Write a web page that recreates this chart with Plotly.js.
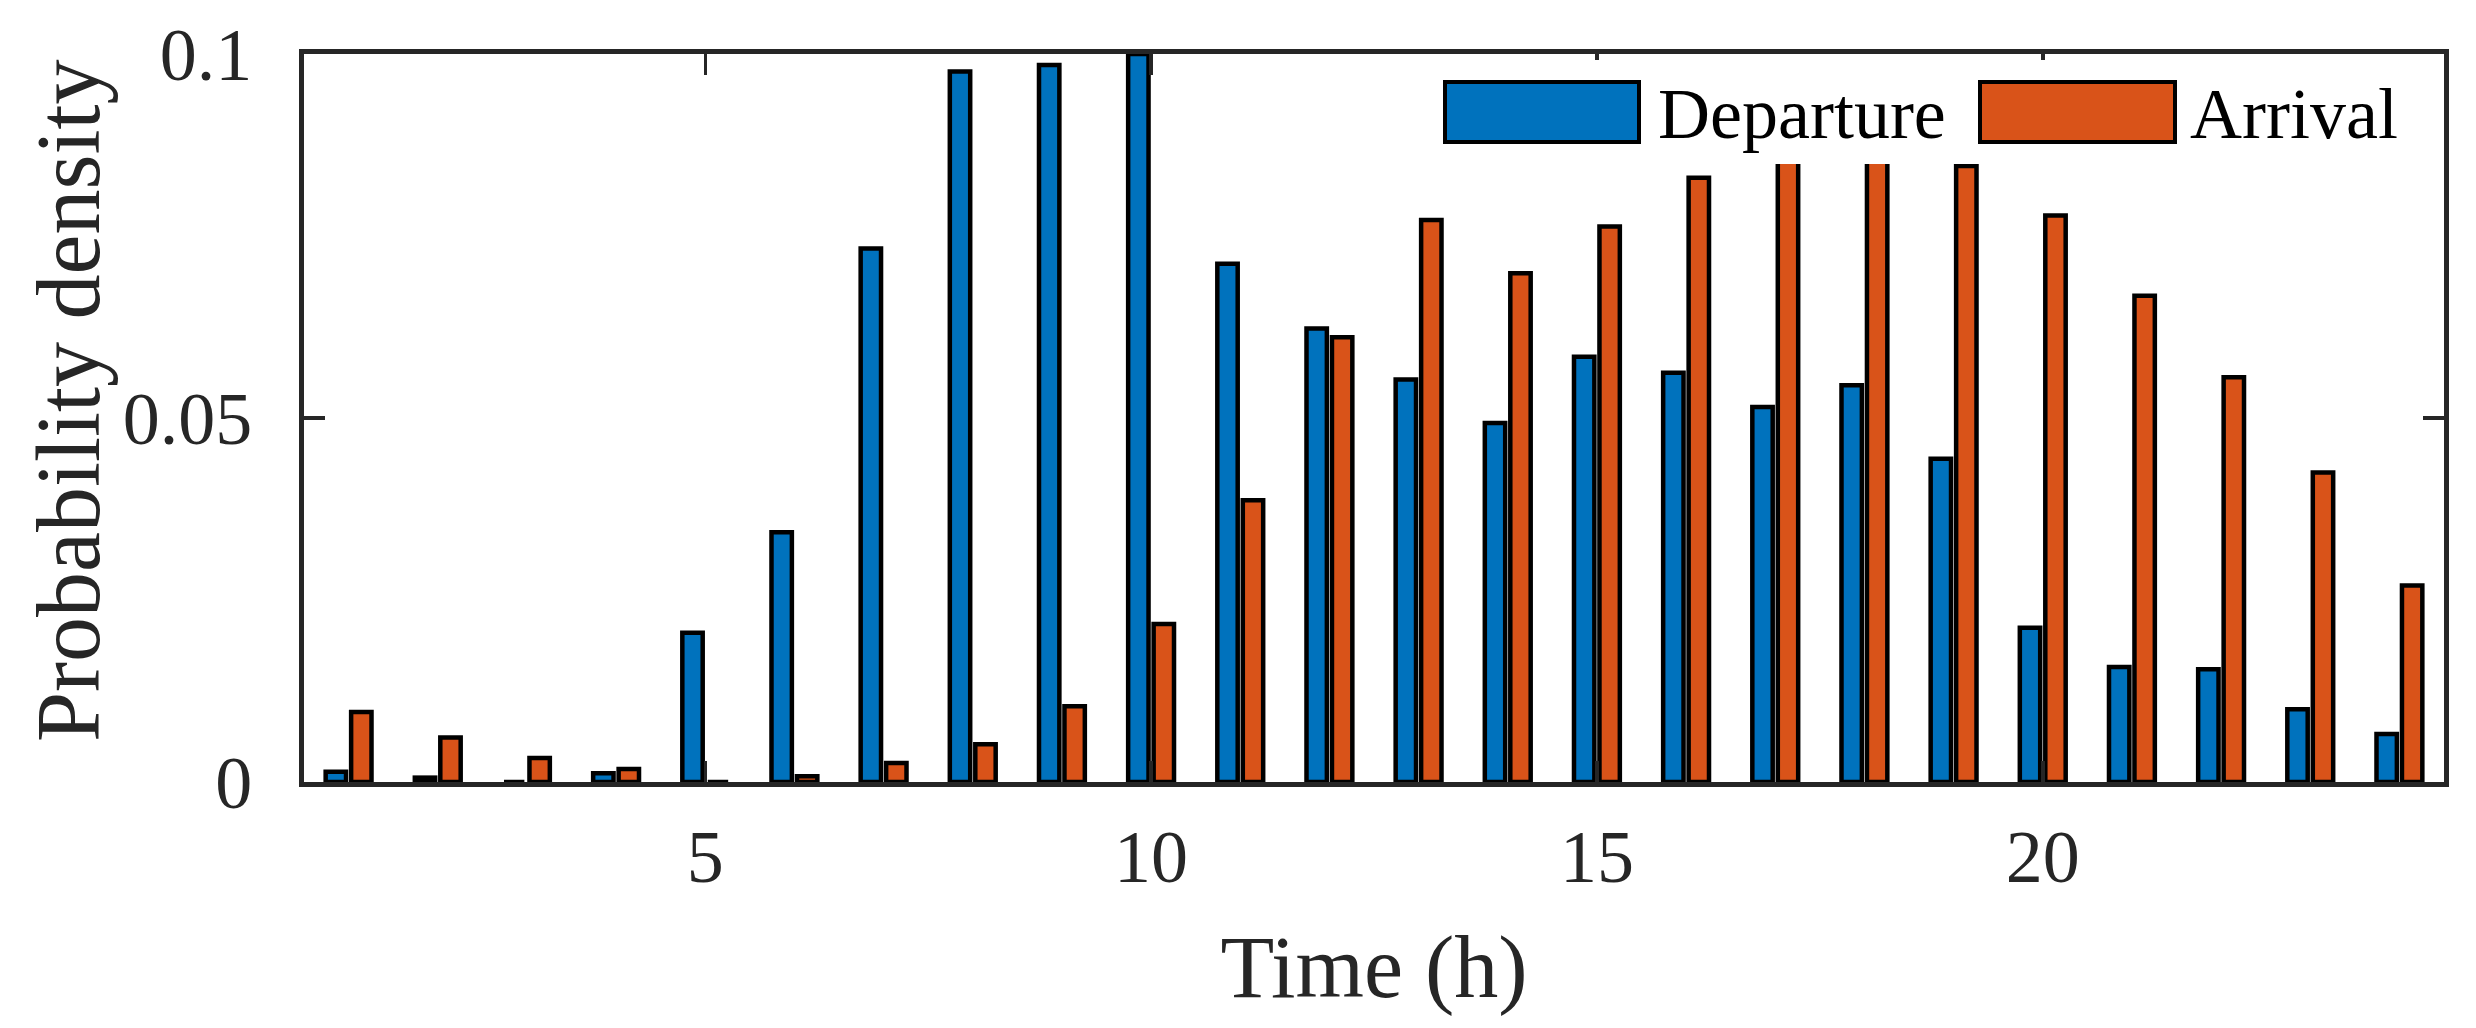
<!DOCTYPE html>
<html>
<head>
<meta charset="utf-8">
<script src="https://cdn.plot.ly/plotly-3.0.1.min.js"></script>
<style>
  html, body { margin: 0; padding: 0; background: #fff; }
  #chart { width: 2476px; height: 1028px; }
</style>
</head>
<body>
<div id="chart"></div>
<script>
/* Hourly departure / arrival probability density, grouped bars (MATLAB-style figure) */

// ---- data ----
const hours     = [1, 2, 3, 4, 5, 6, 7, 8, 9, 10, 11, 12, 13, 14, 15, 16, 17, 18, 19, 20, 21, 22, 23, 24];
const departure = [0.0014, 0.0006, 0, 0.0012, 0.0205, 0.0343, 0.0733, 0.0976, 0.0985, 0.1, 0.0712, 0.0623,
                   0.0553, 0.0493, 0.0584, 0.0562, 0.0515, 0.0545, 0.0444, 0.0212, 0.0158, 0.0155, 0.0100, 0.0066];
const arrival   = [0.0096, 0.0061, 0.0033, 0.0018, 0, 0.0008, 0.0026, 0.0052, 0.0104, 0.0217, 0.0387, 0.0611,
                   0.0772, 0.0699, 0.0763, 0.0830, 0.0880, 0.0885, 0.0846, 0.0778, 0.0668, 0.0556, 0.0425, 0.0270];
const seriesNames = ["Departure", "Arrival"];
const xTicks = [5, 10, 15, 20];
const yTicks = [0, 0.05, 0.1];
const yTickText = ["0", "0.05", "0.1"];

// ---- style ----
const COL = { dep: "#0072BD", arr: "#D95319", axis: "#262626" };
const FONT = "Liberation Serif, Times New Roman, serif";

// plot-area geometry in page pixels (used to place the hand-drawn legend)
const M = { l: 304, r: 32, t: 54, b: 246 };
const W = 2476 - M.l - M.r, H = 1028 - M.t - M.b;
const px = x => (x - M.l) / W;          // page x -> paper x
const py = y => (1028 - M.b - y) / H;   // page y -> paper y

function barTrace(name, yArr, color) {
  return {
    type: "bar",
    x: hours,
    y: yArr,
    name,
    marker: { color, line: { color: "#000", width: 4.5 } },
    cliponaxis: true,
    hovertemplate: `<b>${name}</b><br>%{x} h: %{y:.4f}<extra></extra>`,
  };
}

const traces = [
  barTrace(seriesNames[0], departure, COL.dep),
  barTrace(seriesNames[1], arrival, COL.arr),
];

const axisCommon = {
  showline: true,
  linecolor: COL.axis,
  linewidth: 5,
  mirror: "ticks",
  ticks: "inside",
  ticklen: 21,
  tickwidth: 3.5,
  tickcolor: COL.axis,
  showgrid: false,
  zeroline: false,
  tickfont: { family: FONT, size: 74, color: COL.axis },
  automargin: false,
};

// legend: white box over the bars, two long patches and labels (MATLAB look)
const legendShapes = [
  { type: "rect", xref: "paper", yref: "paper", layer: "above",
    x0: px(1425), x1: px(2432), y0: py(164), y1: py(60),
    fillcolor: "#fff", line: { width: 0 } },
  { type: "rect", xref: "paper", yref: "paper", layer: "above",
    x0: px(1445), x1: px(1639), y0: py(142), y1: py(82),
    fillcolor: COL.dep, line: { color: "#000", width: 4 } },
  { type: "rect", xref: "paper", yref: "paper", layer: "above",
    x0: px(1980), x1: px(2175), y0: py(142), y1: py(82),
    fillcolor: COL.arr, line: { color: "#000", width: 4 } },
];
const legendText = [
  { text: seriesNames[0], x: px(1656) },
  { text: seriesNames[1], x: px(2188) },
].map(d => ({
  xref: "paper", yref: "paper", x: d.x, y: py(114),
  xanchor: "left", yanchor: "middle", showarrow: false,
  text: d.text, font: { family: FONT, size: 72, color: "#000" },
}));

// y title as a rotated annotation so it can sit where MATLAB put it
const yTitle = {
  xref: "paper", yref: "paper", x: px(68), y: py(401),
  xanchor: "center", yanchor: "middle", showarrow: false, textangle: -90,
  text: "Probability density", font: { family: FONT, size: 90, color: COL.axis },
};

Plotly.newPlot("chart", traces, {
  width: 2476,
  height: 1028,
  margin: M,
  paper_bgcolor: "#fff",
  plot_bgcolor: "#fff",
  font: { family: FONT, color: COL.axis },
  showlegend: false,
  barmode: "group",
  bargap: 0.4286,
  bargroupgap: 0.2,
  xaxis: {
    ...axisCommon,
    range: [0.5, 24.5],
    tickmode: "array",
    tickvals: xTicks,
    ticklabelstandoff: 6,
    title: { text: "Time (h)", font: { family: FONT, size: 88, color: COL.axis }, standoff: 40 },
  },
  yaxis: {
    ...axisCommon,
    range: [0, 0.1],
    tickmode: "array",
    tickvals: yTicks,
    ticktext: yTickText,
    ticklabelstandoff: 32,
  },
  shapes: legendShapes,
  annotations: [...legendText, yTitle],
}, { displayModeBar: false, staticPlot: true });
</script>
</body>
</html>
